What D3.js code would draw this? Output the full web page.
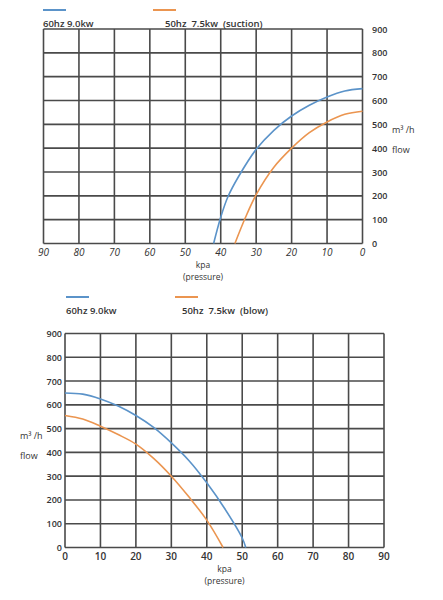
<!DOCTYPE html>
<html><head><meta charset="utf-8">
<script src="https://cdn.jsdelivr.net/npm/d3@7"></script>
<style>
body{margin:0;background:#fff;}
svg text{font-family:"Open Sans",sans-serif;fill:#333;white-space:pre;}
</style></head>
<body><svg id="c" width="443" height="600"></svg>
<script>
const xTicks = [0,10,20,30,40,50,60,70,80,90];
const yTicks = [0,100,200,300,400,500,600,700,800,900];
const seriesNames = ["60hz 9.0kw","50hz  7.5kw"];
const colors = ["#5b93c9","#eb9550"];
// suction (top chart): pressure kPa, flow m³/h
const suction60P = [0,5,10,15,20,25,30,35,38,40,42];
const suction60F = [650,640,615,580,535,475,395,280,195,110,0];
const suction50P = [0,5,10,15,20,25,30,33,36];
const suction50F = [555,542,510,465,400,320,205,110,0];
// blow (bottom chart)
const blow60P = [0,5,10,15,20,25,30,35,40,45,50,51];
const blow60F = [650,645,625,595,555,505,440,365,272,165,40,0];
const blow50P = [0,5,10,15,20,25,30,35,40,44.6];
const blow50F = [555,540,510,475,435,375,300,212,115,0];

const svg = d3.select("#c");
const zip = (P,F)=>P.map((p,i)=>({p,f:F[i]}));

function chart(o){
  const x = d3.scaleLinear().domain(o.xdom).range([o.l,o.r]);
  const y = d3.scaleLinear().domain([0,900]).range([o.b,o.t]);
  const g = svg.append("g");
  // grid
  g.selectAll(".vx").data(xTicks).enter().append("line")
    .attr("x1",d=>x(d)).attr("x2",d=>x(d)).attr("y1",o.t).attr("y2",o.b)
    .attr("stroke","#4a4a4a").attr("stroke-width",1.6);
  g.selectAll(".hy").data(yTicks).enter().append("line")
    .attr("y1",d=>y(d)).attr("y2",d=>y(d)).attr("x1",o.l).attr("x2",o.r)
    .attr("stroke","#4a4a4a").attr("stroke-width",1.6);
  // tick labels
  g.selectAll(".xl").data(xTicks).enter().append("text")
    .attr("x",d=>x(d)).attr("y",o.xlY).attr("text-anchor","middle")
    .attr("font-size",10).attr("font-style",o.italic?"italic":"normal")
    .attr("font-weight",o.italic?"normal":"600").text(d=>d);
  g.selectAll(".yl").data(yTicks).enter().append("text")
    .attr("x",o.ylX).attr("y",d=>y(d)+3.5).attr("text-anchor",o.ylAnchor)
    .attr("font-size",9).attr("font-weight","600").text(d=>d);
  // axis titles
  g.append("text").attr("x",x(45)).attr("y",o.b+24).attr("text-anchor","middle").attr("font-size",8.5).text("kpa");
  g.append("text").attr("x",x(45)).attr("y",o.b+36).attr("text-anchor","middle").attr("font-size",8.5).text("(pressure)");
  g.append("text").attr("x",o.unitX).attr("y",o.unitY).attr("font-size",9).text("m³ /h");
  g.append("text").attr("x",o.unitX).attr("y",o.unitY+20).attr("font-size",9).text("flow");
  // curves
  const line = d3.line().x(d=>x(d.p)).y(d=>y(d.f)).curve(d3.curveCatmullRom.alpha(0.5));
  o.data.forEach((d,i)=>{
    g.append("path").datum(d).attr("d",line).attr("fill","none")
      .attr("stroke",colors[i]).attr("stroke-width",1.6);
  });
  // legend
  o.legend.forEach((L,i)=>{
    g.append("line").attr("x1",L.lx).attr("x2",L.lx+23).attr("y1",L.ly).attr("y2",L.ly)
      .attr("stroke",colors[i]).attr("stroke-width",2);
    g.append("text").attr("x",L.tx).attr("y",L.ty).attr("font-size",9.5).attr("font-weight","600").text(L.text);
  });
}

chart({xdom:[90,0], l:43.5, r:362.5, t:29, b:243.5, xlY:256, italic:true,
  ylX:372, ylAnchor:"start", unitX:392, unitY:133,
  data:[zip(suction60P,suction60F), zip(suction50P,suction50F)],
  legend:[{lx:43,ly:10,tx:43,ty:27,text:seriesNames[0]},
          {lx:153,ly:10,tx:165,ty:27,text:seriesNames[1]+"  (suction)"}]});

chart({xdom:[0,90], l:65, r:384, t:333.5, b:547.5, xlY:560, italic:false,
  ylX:62, ylAnchor:"end", unitX:20, unitY:439,
  data:[zip(blow60P,blow60F), zip(blow50P,blow50F)],
  legend:[{lx:66,ly:297,tx:66,ty:314,text:seriesNames[0]},
          {lx:175,ly:297,tx:182,ty:314,text:seriesNames[1]+"  (blow)"}]});
</script></body></html>
